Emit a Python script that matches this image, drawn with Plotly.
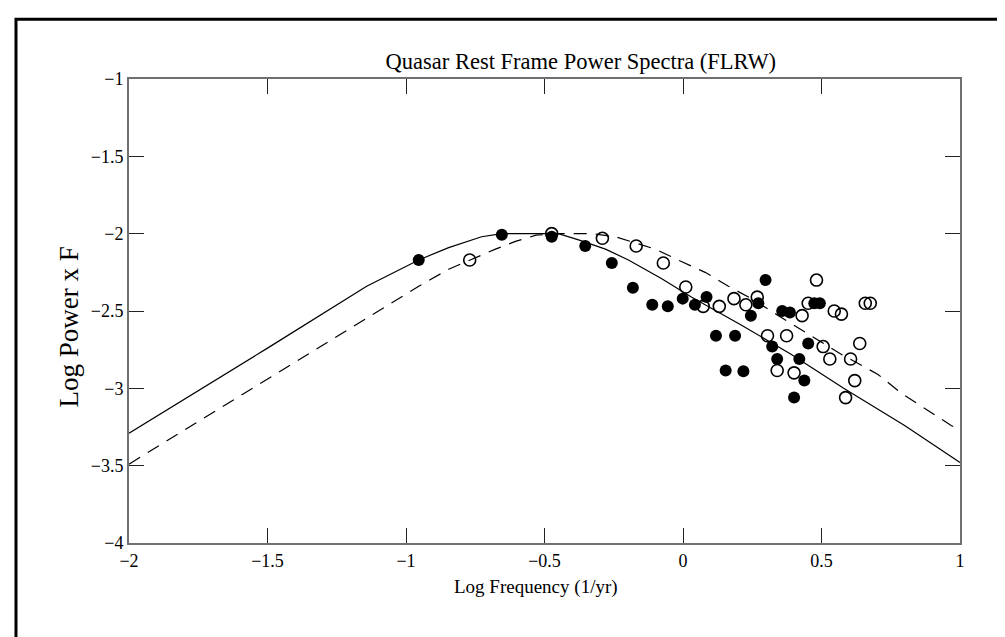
import plotly.graph_objects as go

# model curves
solid_x = [-2.0, -1.5, -1.142, -0.954, -0.846, -0.727, -0.654, -0.45, -0.377, -0.28, -0.197, -0.078, 0.03, 0.21, 0.39, 0.58, 0.80, 1.0]
solid_y = [-3.29, -2.74, -2.34, -2.17, -2.09, -2.02, -2.0, -2.0, -2.04, -2.10, -2.17, -2.29, -2.41, -2.59, -2.78, -3.0, -3.24, -3.48]

dash_x = [-2.0, -1.5, -1.2, -0.954, -0.846, -0.77, -0.677, -0.605, -0.53, -0.45, -0.33, -0.244, -0.10, -0.006, 0.08, 0.164, 0.247, 0.38, 0.463, 0.571, 0.704, 0.787, 0.968, 1.0]
dash_y = [-3.49, -2.94, -2.61, -2.34, -2.23, -2.17, -2.10, -2.05, -2.01, -2.0, -2.0, -2.02, -2.10, -2.18, -2.25, -2.34, -2.42, -2.57, -2.66, -2.78, -2.91, -3.03, -3.24, -3.27]

# filled points
filled_x = [-0.954, -0.654, -0.474, -0.353, -0.257, -0.181, -0.111, -0.055, -0.001, 0.043, 0.085, 0.298, 0.272, 0.245,
            0.358, 0.386, 0.474, 0.494, 0.119, 0.188, 0.322, 0.452, 0.340, 0.420, 0.154, 0.218, 0.438, 0.401]
filled_y = [-2.17, -2.007, -2.02, -2.08, -2.19, -2.35, -2.46, -2.47, -2.42, -2.46, -2.41, -2.30, -2.45, -2.53,
            -2.50, -2.51, -2.45, -2.45, -2.66, -2.66, -2.73, -2.71, -2.81, -2.81, -2.885, -2.89, -2.95, -3.06]

# open points
open_x = [-0.770, -0.474, -0.291, -0.169, -0.071, 0.010, 0.073, 0.131, 0.184, 0.227, 0.268, 0.482, 0.430, 0.452,
          0.546, 0.572, 0.658, 0.676, 0.305, 0.374, 0.506, 0.638, 0.530, 0.605, 0.340, 0.401, 0.620, 0.587]
open_y = [-2.17, -2.00, -2.03, -2.08, -2.19, -2.345, -2.47, -2.47, -2.42, -2.46, -2.41, -2.30, -2.53, -2.45,
          -2.50, -2.52, -2.45, -2.45, -2.66, -2.66, -2.73, -2.71, -2.81, -2.81, -2.885, -2.90, -2.95, -3.06]

x_ticks = [-2, -1.5, -1, -0.5, 0, 0.5, 1]
y_ticks = [-1, -1.5, -2, -2.5, -3, -3.5, -4]

FONT = "Liberation Serif, Times New Roman, serif"

fig = go.Figure()
fig.add_trace(go.Scatter(x=solid_x, y=solid_y, mode="lines", line=dict(color="black", width=1.2)))
fig.add_trace(go.Scatter(x=dash_x, y=dash_y, mode="lines", line=dict(color="black", width=1.2, dash="13px,9px")))
fig.add_trace(go.Scatter(x=open_x, y=open_y, mode="markers",
                         marker=dict(symbol="circle-open", size=12, color="black", line=dict(width=1.6))))
fig.add_trace(go.Scatter(x=filled_x, y=filled_y, mode="markers",
                         marker=dict(symbol="circle", size=12, color="black")))

axis = dict(showgrid=False, zeroline=False, showline=True, linecolor="#707070", linewidth=2, mirror="ticks",
            ticks="inside", ticklen=15, tickwidth=1, tickcolor="#222",
            tickfont=dict(family=FONT, size=18, color="black"))
fig.update_xaxes(range=[-2, 1], tickvals=x_ticks, **axis)
fig.update_yaxes(range=[-4, -1], tickvals=y_ticks, **axis)

fig.update_layout(
    width=1005, height=637, showlegend=False,
    margin=dict(l=121, r=53, t=71, b=102),
    paper_bgcolor="white", plot_bgcolor="white",
    font=dict(family=FONT, color="black"),
    title=dict(text="Quasar Rest Frame Power Spectra (FLRW)", x=0.570, xanchor="center",
               y=0.917, yanchor="middle", font=dict(family=FONT, size=22.5, color="black")),
    annotations=[
        dict(text="Log Power x F", xref="paper", yref="paper", x=-0.093, y=0.466, textangle=-90,
             showarrow=False, font=dict(family=FONT, size=27, color="black")),
        dict(text="Log Frequency (1/yr)", xref="paper", yref="paper", x=0.49, y=-0.122,
             showarrow=False, font=dict(family=FONT, size=19, color="black")),
    ],
    shapes=[dict(type="rect", xref="paper", yref="paper", x0=-0.136, y0=-0.25, x1=1.08, y1=1.129,
                 line=dict(color="black", width=3), layer="above")],
)

fig.write_html("out.html")
